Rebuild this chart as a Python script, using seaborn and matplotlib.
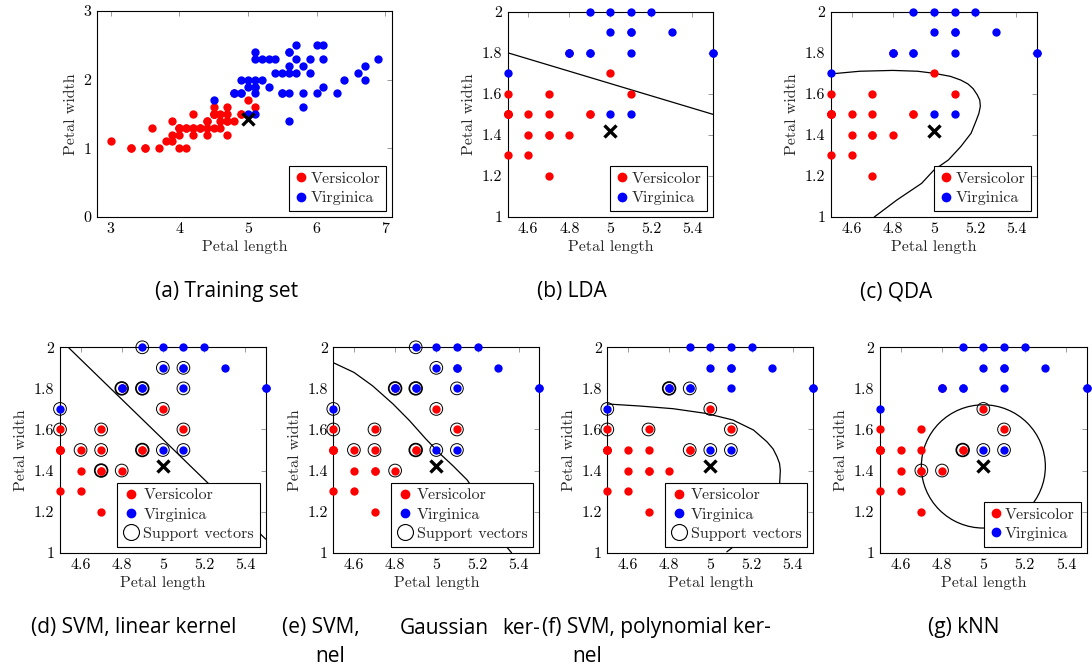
import numpy as np
import pandas as pd
import matplotlib
matplotlib.use("Agg")
import matplotlib.pyplot as plt
import seaborn as sns
from matplotlib.lines import Line2D
from matplotlib.patches import Circle
from matplotlib.ticker import FixedLocator, FixedFormatter

# ---------------- data ----------------
versicolor_len = [4.7, 4.5, 4.9, 4.0, 4.6, 4.5, 4.7, 3.3, 4.6, 3.9, 3.5, 4.2, 4.0, 4.7, 3.6, 4.4, 4.5,
                  4.1, 4.5, 3.9, 4.8, 4.0, 4.9, 4.7, 4.3, 4.4, 4.8, 5.0, 4.5, 3.5, 3.8, 3.7, 3.9, 5.1,
                  4.5, 4.5, 4.7, 4.4, 4.1, 4.0, 4.4, 4.6, 4.0, 3.3, 4.2, 4.2, 4.2, 4.3, 3.0, 4.1]
versicolor_wid = [1.4, 1.5, 1.5, 1.3, 1.5, 1.3, 1.6, 1.0, 1.3, 1.4, 1.0, 1.5, 1.0, 1.4, 1.3, 1.4, 1.5,
                  1.0, 1.5, 1.1, 1.8, 1.3, 1.5, 1.2, 1.3, 1.4, 1.4, 1.7, 1.5, 1.0, 1.1, 1.0, 1.2, 1.6,
                  1.5, 1.6, 1.5, 1.3, 1.3, 1.3, 1.2, 1.4, 1.2, 1.0, 1.3, 1.2, 1.3, 1.3, 1.1, 1.3]
virginica_len = [6.0, 5.1, 5.9, 5.6, 5.8, 6.6, 4.5, 6.3, 5.8, 6.1, 5.1, 5.3, 5.5, 5.0, 5.1, 5.3, 5.5,
                 6.7, 6.9, 5.0, 5.7, 4.9, 6.7, 4.9, 5.7, 6.0, 4.8, 4.9, 5.6, 5.8, 6.1, 6.4, 5.6, 5.1,
                 5.6, 6.1, 5.6, 5.5, 4.8, 5.4, 5.6, 5.1, 5.1, 5.9, 5.7, 5.2, 5.0, 5.2, 5.4, 5.1]
virginica_wid = [2.5, 1.9, 2.1, 1.8, 2.2, 2.1, 1.7, 1.8, 1.8, 2.5, 2.0, 1.9, 2.1, 2.0, 2.4, 2.3, 1.8,
                 2.2, 2.3, 1.5, 2.3, 2.0, 2.0, 1.8, 2.1, 1.8, 1.8, 1.8, 2.1, 1.6, 1.9, 2.0, 2.2, 1.5,
                 1.4, 2.3, 2.4, 1.8, 1.8, 2.1, 2.4, 2.3, 1.9, 2.3, 2.5, 2.3, 1.9, 2.0, 2.3, 1.8]

test_x = [5.0]
test_y = [1.42]

# decision boundaries
lda_x = [4.5, 5.5]
lda_y = [1.8, 1.5]
qda_x = [4.50, 4.64, 4.80, 4.92, 5.00, 5.08, 5.13, 5.165, 5.19, 5.21, 5.222, 5.225, 5.218, 5.205, 5.18, 5.13, 5.07, 5.00, 4.94, 4.82, 4.71]
qda_y = [1.697, 1.710, 1.714, 1.710, 1.700, 1.685, 1.667, 1.648, 1.625, 1.595, 1.570, 1.540, 1.505, 1.470, 1.408, 1.343, 1.278, 1.229, 1.164, 1.083, 1.000]
svm_lin_bx = [4.54, 5.5]
svm_lin_by = [2.0, 1.066]
svm_rbf_bx = [4.50, 4.60, 4.69, 4.79, 4.87, 4.95, 5.02, 5.08, 5.15, 5.22, 5.28, 5.345, 5.365]
svm_rbf_by = [1.925, 1.878, 1.813, 1.724, 1.643, 1.553, 1.480, 1.424, 1.354, 1.250, 1.140, 1.024, 1.000]
svm_poly_bx = [4.50, 4.66, 4.82, 4.98, 5.11, 5.21, 5.275, 5.305, 5.324, 5.336, 5.34, 5.335, 5.30, 5.24, 5.17, 5.112, 5.08]
svm_poly_by = [1.724, 1.714, 1.701, 1.678, 1.646, 1.597, 1.540, 1.505, 1.467, 1.435, 1.40, 1.31, 1.21, 1.12, 1.06, 1.029, 1.004]
knn_radius = 0.3

# support vectors / neighbours (repeated entries = several coincident points)
sv_lin_x = [4.9, 5.0, 5.1, 4.8, 4.8, 4.9, 4.9, 5.1, 4.5, 5.0, 4.5, 4.7, 5.1, 4.6, 4.7, 4.9, 4.9, 5.0, 5.1, 4.7, 4.7, 4.8]
sv_lin_y = [2.0, 1.9, 1.9, 1.8, 1.8, 1.8, 1.8, 1.8, 1.7, 1.7, 1.6, 1.6, 1.6, 1.5, 1.5, 1.5, 1.5, 1.5, 1.5, 1.4, 1.4, 1.4]
sv_rbf_x = [4.9, 5.0, 4.8, 4.8, 4.9, 4.9, 5.1, 4.5, 5.0, 4.5, 4.7, 5.1, 4.6, 4.7, 4.9, 4.9, 5.0, 5.1, 4.8]
sv_rbf_y = [2.0, 1.9, 1.8, 1.8, 1.8, 1.8, 1.8, 1.7, 1.7, 1.6, 1.6, 1.6, 1.5, 1.5, 1.5, 1.5, 1.5, 1.5, 1.4]
sv_poly_x = [4.8, 4.8, 4.9, 4.5, 5.0, 4.5, 4.7, 5.1, 4.9, 5.0, 5.1]
sv_poly_y = [1.8, 1.8, 1.8, 1.7, 1.7, 1.6, 1.6, 1.6, 1.5, 1.5, 1.5]
nn_x = [5.0, 5.1, 4.9, 4.9, 5.0, 5.1, 4.7, 4.8]
nn_y = [1.7, 1.6, 1.5, 1.5, 1.5, 1.5, 1.4, 1.4]

ticks_a_x = [3, 4, 5, 6, 7]
ticks_a_y = [0, 1, 2, 3]
ticks_z_x = [4.6, 4.8, 5.0, 5.2, 5.4]
ticks_z_xlab = ["4.6", "4.8", "5", "5.2", "5.4"]
ticks_z_y = [1.0, 1.2, 1.4, 1.6, 1.8, 2.0]
ticks_z_ylab = ["1", "1.2", "1.4", "1.6", "1.8", "2"]

captions = ["(a) Training set", "(b) LDA", "(c) QDA", "(d) SVM, linear kernel",
            "(e) SVM,", "Gaussian", "ker-", "nel", "(f) SVM, polynomial ker-", "nel", "(g) kNN"]

# ---------------- style ----------------
sns.set_theme(style="white")
plt.rcParams["font.family"] = ["cmr10", "DejaVu Serif"]
plt.rcParams["mathtext.fontset"] = "cm"
plt.rcParams["axes.unicode_minus"] = False
plt.rcParams["axes.formatter.use_mathtext"] = True

W, H = 1092, 672
fig = plt.figure(figsize=(W / 100, H / 100), dpi=100)
fig.patch.set_facecolor("white")

FS = 11.5
DOT_S = 36
RING_S = 84

vers = pd.DataFrame({"x": versicolor_len, "y": versicolor_wid})
virg = pd.DataFrame({"x": virginica_len, "y": virginica_wid})


def add_ax(l, t, r, b):
    return fig.add_axes([l / W, 1 - b / H, (r - l) / W, (b - t) / H])


def style_ax(ax, xt, xl, yt, yl, xlim, ylim):
    ax.set_xlim(*xlim)
    ax.set_ylim(*ylim)
    ax.xaxis.set_major_locator(FixedLocator(xt))
    ax.xaxis.set_major_formatter(FixedFormatter(xl))
    ax.yaxis.set_major_locator(FixedLocator(yt))
    ax.yaxis.set_major_formatter(FixedFormatter(yl))
    ax.tick_params(direction="in", length=3.5, width=0.5, color="0.45",
                   top=True, right=True, labelsize=FS, pad=4, labelcolor="black")
    for s in ax.spines.values():
        s.set_color("black")
        s.set_linewidth(0.8)
    ax.set_xlabel("Petal length", fontsize=FS, labelpad=3)
    ax.set_ylabel("Petal width", fontsize=FS, labelpad=4)
    ax.set_facecolor("white")


def draw_points(ax, zoom):
    if zoom:
        v = vers[(vers.x >= 4.5) & (vers.x <= 5.5) & (vers.y >= 1.0) & (vers.y <= 2.0)]
        g = virg[(virg.x >= 4.5) & (virg.x <= 5.5) & (virg.y >= 1.0) & (virg.y <= 2.0)]
    else:
        v, g = vers, virg
    sns.scatterplot(data=v, x="x", y="y", color="#ff0000", s=DOT_S, linewidth=0,
                    ax=ax, clip_on=False, zorder=3, legend=False)
    sns.scatterplot(data=g, x="x", y="y", color="#0000ff", s=DOT_S, linewidth=0,
                    ax=ax, clip_on=False, zorder=3.1, legend=False)


def draw_rings(ax, xs, ys):
    df = pd.DataFrame({"x": xs, "y": ys})
    cnt = df.groupby(["x", "y"]).size().reset_index(name="n")
    for n, sub in cnt.groupby("n"):
        sns.scatterplot(data=sub, x="x", y="y", s=RING_S, facecolor="none",
                        edgecolor="black", linewidth=0.7 + 0.55 * (n - 1),
                        ax=ax, clip_on=False, zorder=3.5, legend=False)


def draw_test(ax):
    ax.plot(test_x, test_y, linestyle="none", marker="x", color="black",
            markersize=9, markeredgewidth=2.4, zorder=4, clip_on=False)


def draw_curve(ax, xs, ys):
    sns.lineplot(x=xs, y=ys, sort=False, estimator=None, color="black",
                 linewidth=0.9, ax=ax, zorder=2)


def add_legend(ax, sv=False):
    h = [Line2D([], [], marker="o", color="#ff0000", linestyle="none", markersize=6),
         Line2D([], [], marker="o", color="#0000ff", linestyle="none", markersize=6)]
    lab = ["Versicolor", "Virginica"]
    if sv:
        h.append(Line2D([], [], marker="o", markerfacecolor="white", markeredgecolor="black",
                        linestyle="none", markersize=11.5, markeredgewidth=0.8))
        lab.append("Support vectors")
    lg = ax.legend(h, lab, loc="lower right", fontsize=FS, frameon=True, fancybox=False,
                   framealpha=1, edgecolor="black", borderpad=0.35, labelspacing=0.32,
                   handlelength=0.8 if not sv else 1.1, handletextpad=0.2,
                   borderaxespad=0.38)
    lg.get_frame().set_linewidth(0.8)
    lg.set_zorder(10)


zx = (4.5, 5.5)
zy = (1.0, 2.0)

# (a)
ax = add_ax(97, 11, 392, 217)
draw_points(ax, False)
draw_test(ax)
style_ax(ax, ticks_a_x, [str(t) for t in ticks_a_x], ticks_a_y, [str(t) for t in ticks_a_y], (2.8, 7.1), (0, 3))
add_legend(ax)

# (b) LDA
ax = add_ax(507.7, 11.7, 713, 217)
draw_curve(ax, lda_x, lda_y)
draw_points(ax, True)
draw_test(ax)
style_ax(ax, ticks_z_x, ticks_z_xlab, ticks_z_y, ticks_z_ylab, zx, zy)
add_legend(ax)

# (c) QDA
ax = add_ax(831, 11.7, 1037, 217)
draw_curve(ax, qda_x, qda_y)
draw_points(ax, True)
draw_test(ax)
style_ax(ax, ticks_z_x, ticks_z_xlab, ticks_z_y, ticks_z_ylab, zx, zy)
add_legend(ax)

# (d) SVM linear
ax = add_ax(60, 347.3, 265.7, 552.7)
draw_curve(ax, svm_lin_bx, svm_lin_by)
draw_points(ax, True)
draw_rings(ax, sv_lin_x, sv_lin_y)
draw_test(ax)
style_ax(ax, ticks_z_x, ticks_z_xlab, ticks_z_y, ticks_z_ylab, zx, zy)
add_legend(ax, sv=True)

# (e) SVM gaussian
ax = add_ax(333.3, 347.3, 539.3, 552.7)
draw_curve(ax, svm_rbf_bx, svm_rbf_by)
draw_points(ax, True)
draw_rings(ax, sv_rbf_x, sv_rbf_y)
draw_test(ax)
style_ax(ax, ticks_z_x, ticks_z_xlab, ticks_z_y, ticks_z_ylab, zx, zy)
add_legend(ax, sv=True)

# (f) SVM polynomial
ax = add_ax(607.3, 347.3, 813.3, 552.7)
draw_curve(ax, svm_poly_bx, svm_poly_by)
draw_points(ax, True)
draw_rings(ax, sv_poly_x, sv_poly_y)
draw_test(ax)
style_ax(ax, ticks_z_x, ticks_z_xlab, ticks_z_y, ticks_z_ylab, zx, zy)
add_legend(ax, sv=True)

# (g) kNN
ax = add_ax(880, 347.3, 1086.7, 552.7)
ax.add_patch(Circle((test_x[0], test_y[0]), knn_radius, fill=False, edgecolor="black",
                    linewidth=0.9, zorder=2))
draw_points(ax, True)
draw_rings(ax, nn_x, nn_y)
draw_test(ax)
style_ax(ax, ticks_z_x, ticks_z_xlab, ticks_z_y, ticks_z_ylab, zx, zy)
add_legend(ax)

# captions
CF = dict(fontsize=15, family=["Open Sans", "DejaVu Sans"], color="black", va="center")
fig.text(227 / W, 1 - 292 / H, captions[0], ha="center", **CF)
fig.text(572 / W, 1 - 292 / H, captions[1], ha="center", **CF)
fig.text(896 / W, 1 - 292 / H, captions[2], ha="center", **CF)
fig.text(134 / W, 1 - 628 / H, captions[3], ha="center", **CF)
fig.text(282 / W, 1 - 628 / H, captions[4], ha="left", **CF)
fig.text(444 / W, 1 - 628 / H, captions[5], ha="center", **CF)
fig.text(540 / W, 1 - 628 / H, captions[6], ha="right", **CF)
fig.text(315 / W, 1 - 656 / H, captions[7], ha="left", **CF)
fig.text(542 / W, 1 - 628 / H, captions[8], ha="left", **CF)
fig.text(572 / W, 1 - 656 / H, captions[9], ha="left", **CF)
fig.text(964 / W, 1 - 628 / H, captions[10], ha="center", **CF)

fig.savefig("out.png", dpi=100, facecolor="white")
